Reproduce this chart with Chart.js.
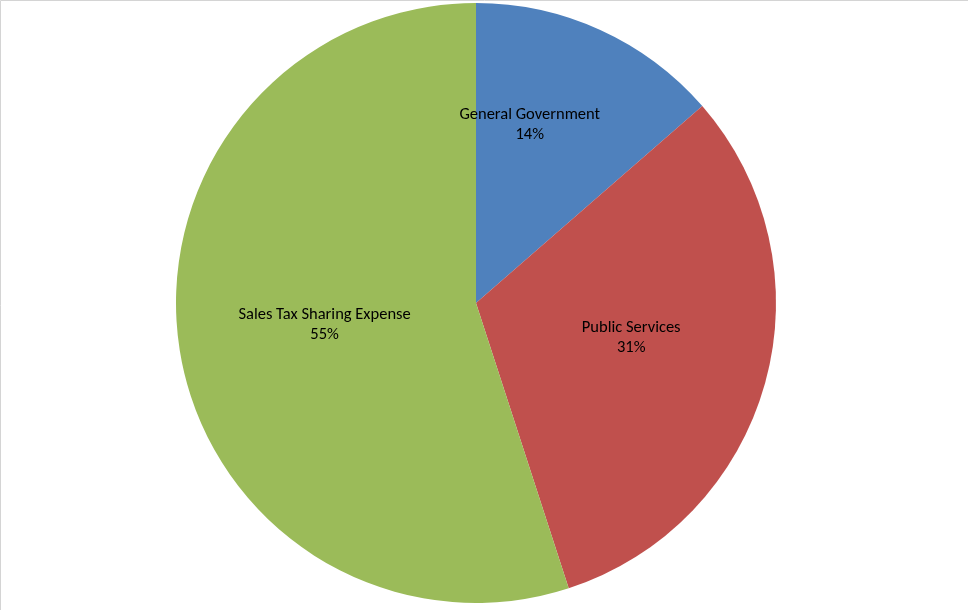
<!DOCTYPE html>
<html>
<head>
<meta charset="utf-8">
<script src="https://cdn.jsdelivr.net/npm/chart.js@4/dist/chart.umd.min.js"></script>
<style>
  html, body { margin: 0; padding: 0; background: #fff; }
  #wrap { width: 968px; height: 610px; position: relative; }
</style>
</head>
<body>
<div id="wrap"><canvas id="c" width="968" height="610"></canvas></div>
<script>
// Expense categories and their share of the total (percent)
const categories = ['General Government', 'Public Services', 'Sales Tax Sharing Expense'];
const shares = [13.6, 31.4, 55.0];
const sliceColors = ['#4F81BD', '#C0504D', '#9BBB59'];

// Where each label sits inside its slice: fraction along the arc, fraction of radius
const labelAlong = [0.343, 0.474, 0.504];
const labelRadius = [0.62, 0.53, 0.51];

const frame = {
  id: 'frame',
  beforeDraw(chart) {
    const ctx = chart.ctx;
    ctx.save();
    ctx.fillStyle = '#fff';
    ctx.fillRect(0, 0, chart.width, chart.height);
    ctx.strokeStyle = '#d4d4d4';
    ctx.lineWidth = 1;
    ctx.beginPath();
    ctx.moveTo(0.5, chart.height);
    ctx.lineTo(0.5, 0.5);
    ctx.lineTo(chart.width, 0.5);
    ctx.stroke();
    ctx.restore();
  }
};

const sliceLabels = {
  id: 'sliceLabels',
  afterDatasetsDraw(chart) {
    const ctx = chart.ctx;
    const meta = chart.getDatasetMeta(0);
    const data = chart.data.datasets[0].data;
    const total = data.reduce((a, b) => a + b, 0);
    ctx.save();
    ctx.fillStyle = '#000';
    ctx.font = '16.5px Carlito, Calibri, "Open Sans", sans-serif';
    ctx.textAlign = 'center';
    ctx.textBaseline = 'middle';
    meta.data.forEach((arc, i) => {
      const p = arc.getProps(['x', 'y', 'startAngle', 'endAngle', 'outerRadius'], true);
      const a = p.startAngle + labelAlong[i] * (p.endAngle - p.startAngle);
      const r = labelRadius[i] * p.outerRadius;
      const x = p.x + Math.cos(a) * r;
      const y = p.y + Math.sin(a) * r;
      const pct = Math.round(data[i] / total * 100) + '%';
      ctx.fillText(chart.data.labels[i], x, y - 10);
      ctx.fillText(pct, x, y + 10);
    });
    ctx.restore();
  }
};

new Chart(document.getElementById('c'), {
  type: 'pie',
  data: {
    labels: categories,
    datasets: [{
      data: shares,
      backgroundColor: sliceColors,
      borderWidth: 0
    }]
  },
  options: {
    responsive: false,
    animation: false,
    layout: { padding: { left: 0, right: 16, top: 3, bottom: 7 } },
    plugins: {
      legend: { display: false },
      tooltip: { enabled: false }
    }
  },
  plugins: [frame, sliceLabels]
});
</script>
</body>
</html>
